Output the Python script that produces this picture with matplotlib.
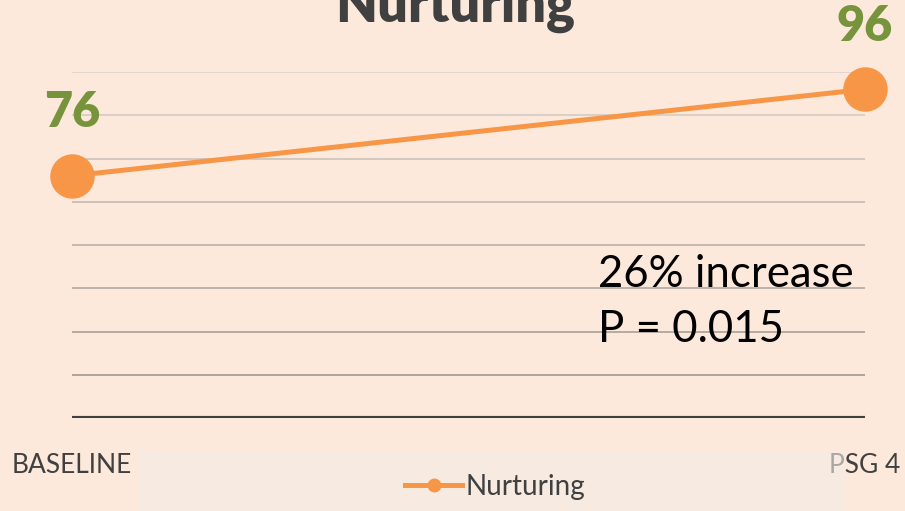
import matplotlib.pyplot as plt
import matplotlib.patches as mpatches
import numpy as np

categories = ['BASELINE', 'PSG 4']
values = [76, 96]
series_name = 'Nurturing'
note_lines = ['26% increase', 'P = 0.015']
yticks = list(range(20, 101, 10))

orange = '#F79646'
green = '#77933C'
bg = '#FDE9DB'
dark = '#404040'

plt.rcParams['font.family'] = ['Lato', 'DejaVu Sans']

fig = plt.figure(figsize=(9.05, 5.11), dpi=100)
fig.patch.set_facecolor(bg)
ax = fig.add_axes([72/905, 1-418/511, 793/905, 346/511])
ax.set_facecolor(bg)

x = np.arange(len(categories))
ax.plot(x, values, color=orange, lw=3.6, marker='o', ms=31,
        clip_on=False, zorder=5, label=series_name)

for xi, v in zip(x, values):
    ax.annotate(str(v), (xi, v), xytext=(0, 35), textcoords='offset points',
                ha='center', va='baseline', fontsize=35, fontweight='heavy',
                color=green, annotation_clip=False)

ax.set_xlim(0, 1)
ax.set_ylim(20, 100)
ax.set_yticks(yticks)
ax.set_yticklabels([])
ax.set_xticks(x)
ax.set_xticklabels(categories, fontsize=19, color=dark)
ax.tick_params(length=0, pad=25)
for s in ax.spines.values():
    s.set_visible(False)

# gridlines fade from darker at the bottom to lighter at the top
ax.grid(axis='y', lw=1.3)
ax.set_axisbelow(True)
glines = ax.get_ygridlines()
n = len(glines)
c_low = np.array([160, 150, 142]) / 255
c_top = np.array([222, 214, 206]) / 255
for i, gl in enumerate(glines):
    t = i / (n - 1)
    gl.set_color(c_low + (c_top - c_low) * t)
glines[0].set_color(dark)
glines[0].set_linewidth(3)

ax.text(0.663, 50.3, note_lines[0], fontsize=31.5, color='black', va='baseline')
ax.text(0.663, 37.6, note_lines[1], fontsize=31.5, color='black', va='baseline')

fig.text(0.503, 1-22/511, series_name, ha='center', va='baseline',
         fontsize=39, fontweight='heavy', color=dark)

box = mpatches.Rectangle((140/905, 0), 705/905, 59/511, transform=fig.transFigure,
                         facecolor='#F2EBE6', alpha=0.6, edgecolor='none', zorder=5)
fig.patches.append(box)

h = plt.Line2D([], [], color=orange, lw=3.6, marker='o', ms=9)
leg = fig.legend([h], [series_name], loc='center', bbox_to_anchor=(495/905, 1-487/511),
                 frameon=False, fontsize=20, handlelength=2.05, handletextpad=0.1,
                 labelcolor=dark)
leg.set_zorder(6)

fig.savefig('out.png', dpi=100, facecolor=bg)
